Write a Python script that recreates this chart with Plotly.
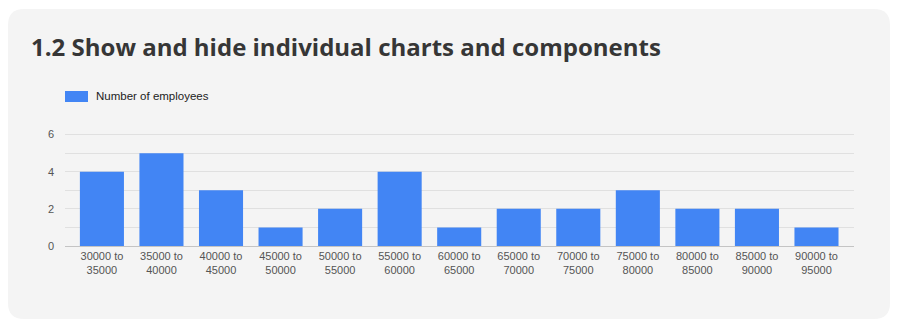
import plotly.graph_objects as go

categories = ["30000 to<br>35000", "35000 to<br>40000", "40000 to<br>45000", "45000 to<br>50000",
              "50000 to<br>55000", "55000 to<br>60000", "60000 to<br>65000", "65000 to<br>70000",
              "70000 to<br>75000", "75000 to<br>80000", "80000 to<br>85000", "85000 to<br>90000",
              "90000 to<br>95000"]
employees = [4, 5, 3, 1, 2, 4, 1, 2, 2, 3, 2, 2, 1]
series_name = "Number of employees"
title_text = "1.2 Show and hide individual charts and components"

W, H = 900, 325
BLUE = "#4285f4"
CARD = "#f4f4f4"
TICK = "#555555"

def px(x):
    return x / W

def py(y):
    return 1 - y / H

fig = go.Figure()
fig.add_trace(go.Bar(x=categories, y=employees, name=series_name, marker_color=BLUE,
                     marker_line_width=0, showlegend=False))

# card background with rounded corners
x0, x1, y0, y1, r = 8, 890, 9, 319, 16
rx, ry = r / W, r / H
X0, X1, Y0, Y1 = px(x0), px(x1), py(y0), py(y1)
path = (f"M {X0+rx},{Y0} L {X1-rx},{Y0} Q {X1},{Y0} {X1},{Y0-ry} "
        f"L {X1},{Y1+ry} Q {X1},{Y1} {X1-rx},{Y1} "
        f"L {X0+rx},{Y1} Q {X0},{Y1} {X0},{Y1+ry} "
        f"L {X0},{Y0-ry} Q {X0},{Y0} {X0+rx},{Y0} Z")
fig.add_shape(type="path", path=path, xref="paper", yref="paper",
              fillcolor=CARD, line_width=0, layer="below")

# legend swatch
fig.add_shape(type="rect", xref="paper", yref="paper",
              x0=px(65), x1=px(88), y0=py(91), y1=py(102),
              fillcolor=BLUE, line_width=0, layer="above")
fig.add_annotation(text=series_name, xref="paper", yref="paper", x=px(94), y=py(96.5),
                   xanchor="left", yanchor="middle", showarrow=False,
                   font=dict(family="Liberation Sans, Arial", size=11.5, color="#222222"))

# title
fig.add_annotation(text="<b>" + title_text + "</b>", xref="paper", yref="paper",
                   x=px(29), y=py(46.5), xanchor="left", yanchor="middle", showarrow=False,
                   font=dict(family="Open Sans", size=24, color="#363636"))

fig.update_layout(
    width=W, height=H,
    margin=dict(l=0, r=0, t=0, b=0),
    paper_bgcolor="white",
    plot_bgcolor="rgba(0,0,0,0)",
    bargap=0.26,
    xaxis=dict(domain=[px(65), px(854)], range=[-0.62, 12.63], automargin=False,
               showgrid=False, showline=False, ticks="", ticklabelstandoff=2,
               tickfont=dict(family="Liberation Sans, Arial", size=11, color=TICK),
               zeroline=False),
    yaxis=dict(domain=[py(246), py(116)], range=[0, 7], dtick=2, tick0=0, automargin=False,
               showgrid=True, gridcolor="#e0e0e0", gridwidth=1,
               minor=dict(dtick=1, tick0=0, showgrid=True, gridcolor="#e0e0e0", gridwidth=1),
               zeroline=True, zerolinecolor="#c4c4c4", zerolinewidth=1,
               showline=False, ticks="", ticklabelstandoff=10,
               tickfont=dict(family="Liberation Sans, Arial", size=11, color=TICK)),
)

fig.write_html("out.html")
